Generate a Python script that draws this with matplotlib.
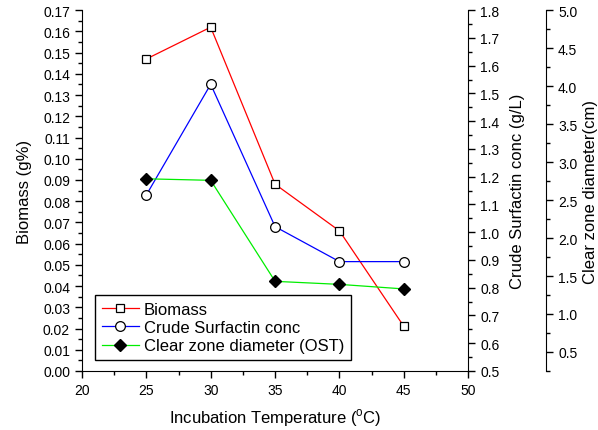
import numpy as np
import matplotlib
matplotlib.use("Agg")
import matplotlib.pyplot as plt
from matplotlib.ticker import MultipleLocator

plt.rcParams['font.family'] = ['Liberation Sans', 'DejaVu Sans']
plt.rcParams['mathtext.fontset'] = 'custom'
plt.rcParams['mathtext.rm'] = 'Liberation Sans'

temp = [25, 30, 35, 40, 45]
biomass = [0.147, 0.162, 0.088, 0.066, 0.021]
surfactin = [1.134, 1.533, 1.020, 0.894, 0.894]
clear_zone = [2.78, 2.76, 1.43, 1.39, 1.33]

fig = plt.figure(figsize=(5.98, 4.31), dpi=100)
ax = fig.add_axes([0.137, 0.137, 0.646, 0.837])
ax2 = ax.twinx()
ax3 = ax.twinx()

l1, = ax.plot(temp, biomass, color='red', lw=0.9, marker='s', ms=6,
              mfc='white', mec='black', mew=0.9, label='Biomass')
l2, = ax2.plot(temp, surfactin, color='blue', lw=0.9, marker='o', ms=7,
               mfc='white', mec='black', mew=0.9, label='Crude Surfactin conc')
l3, = ax3.plot(temp, clear_zone, color='#00ee00', lw=0.9, marker='D', ms=6.5,
               mfc='black', mec='black', label='Clear zone diameter (OST)')

ax.set_xlim(20, 50)
ax.set_ylim(0, 0.17)
ax2.set_ylim(0.5, 1.8)
ax3.set_ylim(0.25, 5.0)

ax.xaxis.set_major_locator(MultipleLocator(5))
ax.xaxis.set_minor_locator(MultipleLocator(2.5))
ax.yaxis.set_major_locator(MultipleLocator(0.01))
ax.yaxis.set_minor_locator(MultipleLocator(0.005))
ax.yaxis.set_major_formatter(plt.FormatStrFormatter('%.2f'))
ax2.yaxis.set_major_locator(MultipleLocator(0.1))
ax2.yaxis.set_minor_locator(MultipleLocator(0.05))
ax2.yaxis.set_major_formatter(plt.FormatStrFormatter('%.1f'))
ax3.set_yticks(np.arange(0.5, 5.01, 0.5))
ax3.set_yticks(np.arange(0.25, 5.0, 0.5), minor=True)
ax3.yaxis.set_major_formatter(plt.FormatStrFormatter('%.1f'))

for a in (ax, ax2, ax3):
    a.spines['top'].set_visible(False)
    a.tick_params(which='major', direction='out', length=5, width=1, labelsize=10)
    a.tick_params(which='minor', direction='out', length=3, width=1)
ax.spines['right'].set_visible(False)
ax3.spines['right'].set_position(('axes', 1.202))
for a in (ax2, ax3):
    a.spines['left'].set_visible(False)
    a.spines['bottom'].set_visible(False)

ax.set_xlabel('Incubation Temperature ($^{\\mathrm{o}}$C)', fontsize=12, labelpad=7)
ax.set_ylabel('Biomass (g%)', fontsize=12, labelpad=8)
ax2.set_ylabel('Crude Surfactin conc (g/L)', fontsize=12, labelpad=8)
ax3.set_ylabel('Clear zone diameter(cm)', fontsize=12, labelpad=4)

leg = ax.legend(handles=[l1, l2, l3], loc='lower left', bbox_to_anchor=(0.035, 0.03),
                fontsize=12, frameon=True, fancybox=False, framealpha=1,
                edgecolor='black', handlelength=2.2, handletextpad=0.3,
                borderpad=0.4, labelspacing=0.2, borderaxespad=0)
leg.get_frame().set_linewidth(1)

fig.savefig('out.png', dpi=100)
